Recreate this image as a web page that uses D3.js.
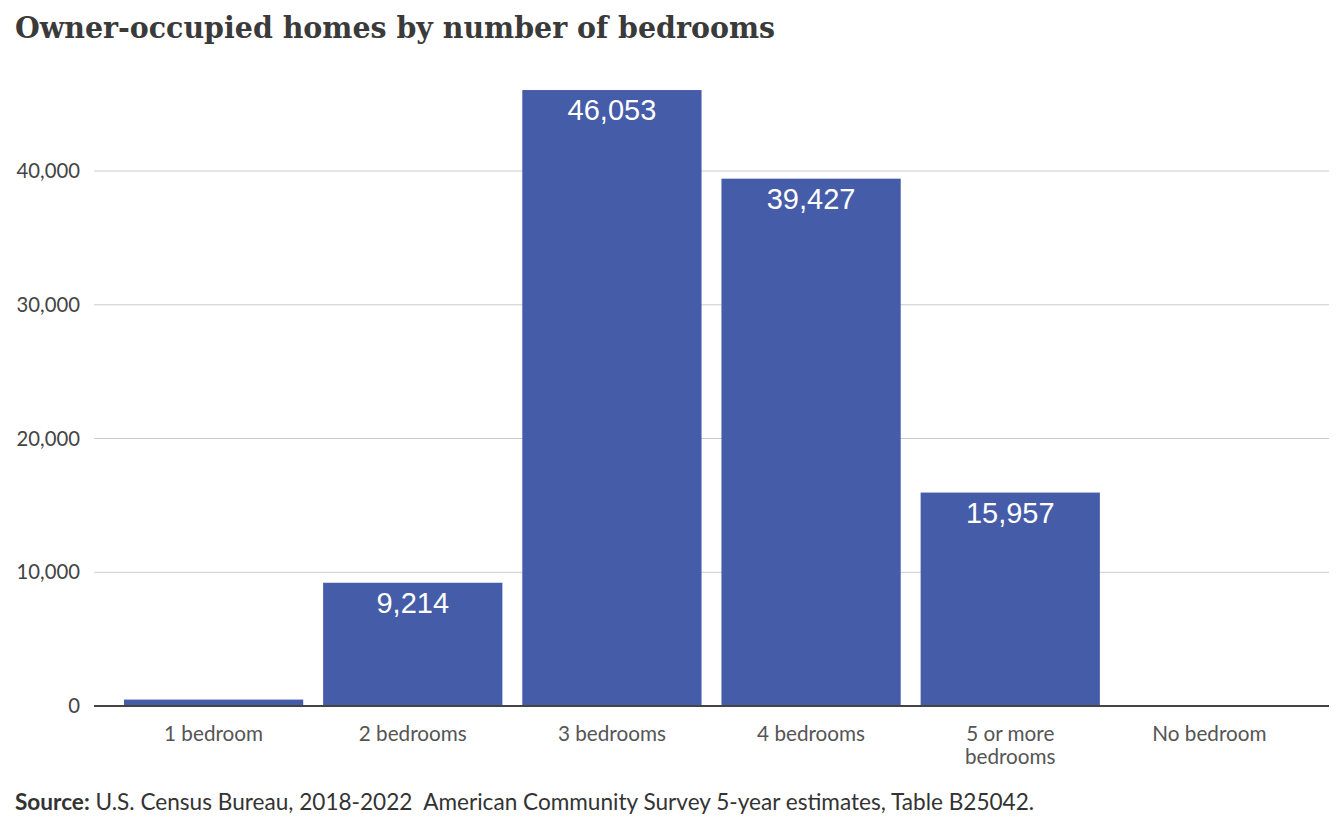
<html>
<head>
<script src="https://d3js.org/d3.v7.min.js"></script>
<style>
  body { margin: 0; background: #fff; }
</style>
</head>
<body>
<script>
var categories = ["1 bedroom", "2 bedrooms", "3 bedrooms", "4 bedrooms", "5 or more bedrooms", "No bedroom"];
var values = [480, 9214, 46053, 39427, 15957, 0];
var yTicks = [0, 10000, 20000, 30000, 40000];

var w = 1344, h = 830;
var svg = d3.select("body").append("svg").attr("width", w).attr("height", h);

// title
svg.append("text").attr("x", 15).attr("y", 38)
  .attr("font-family", "'Roboto Slab', 'DejaVu Serif Condensed', 'DejaVu Serif', serif")
  .attr("font-weight", "bold").attr("font-size", 29).attr("fill", "#3a3a3a")
  .attr("textLength", 760).attr("lengthAdjust", "spacingAndGlyphs")
  .text("Owner-occupied  homes by number of bedrooms");

var x = d3.scaleBand().domain(categories).range([114, 1309]).paddingInner(0.1).paddingOuter(0.05);
var y = d3.scaleLinear().domain([0, 40000]).range([706, 171]);

// grid
svg.append("g").selectAll("line").data(yTicks.slice(1)).join("line")
  .attr("x1", 94).attr("x2", 1329)
  .attr("y1", function(d){ return y(d); }).attr("y2", function(d){ return y(d); })
  .attr("stroke", "#cccccc").attr("stroke-width", 1);

// y tick labels
svg.append("g").selectAll("text").data(yTicks).join("text")
  .attr("x", 80).attr("y", function(d){ return y(d) + 7; })
  .attr("text-anchor", "end")
  .attr("font-family", "Lato, sans-serif").attr("font-size", 20.3).attr("fill", "#444")
  .text(function(d){ return d3.format(",")(d); });

// bars
svg.append("g").selectAll("rect").data(values).join("rect")
  .attr("x", function(d, i){ return x(categories[i]); })
  .attr("width", x.bandwidth())
  .attr("y", function(d){ return y(d); })
  .attr("height", function(d){ return y(0) - y(d); })
  .attr("fill", "#455ca8");

// value labels
svg.append("g").selectAll("text").data(values).join("text")
  .filter(function(d){ return d > 5000; })
  .attr("x", function(d){ return x(categories[values.indexOf(d)]) + x.bandwidth() / 2; })
  .attr("y", function(d){ return y(d) + 30; })
  .attr("text-anchor", "middle")
  .attr("font-family", "'Liberation Sans', Arial, sans-serif").attr("font-size", 29).attr("fill", "#fff")
  .text(function(d){ return d3.format(",")(d); });

// baseline
svg.append("line").attr("x1", 94).attr("x2", 1329).attr("y1", y(0)).attr("y2", y(0))
  .attr("stroke", "#444").attr("stroke-width", 2);

// x labels
var xl = svg.append("g").selectAll("text").data(categories).join("text")
  .attr("x", function(d){ return x(d) + x.bandwidth() / 2; })
  .attr("y", 741)
  .attr("text-anchor", "middle")
  .attr("font-family", "Lato, sans-serif").attr("font-size", 20.7).attr("fill", "#555");
xl.each(function(d){
  var t = d3.select(this);
  var lines = d === "5 or more bedrooms" ? ["5 or more", "bedrooms"] : [d];
  lines.forEach(function(l, i){
    t.append("tspan").attr("x", x(d) + x.bandwidth() / 2).attr("dy", i ? 23 : 0).text(l);
  });
});

// source
var src = svg.append("text").attr("x", 15).attr("y", 810).attr("xml:space", "preserve")
  .attr("font-family", "Lato, sans-serif").attr("font-size", 22.6).attr("fill", "#333");
src.append("tspan").attr("font-weight", "bold").text("Source:");
src.append("tspan").text(" U.S. Census Bureau, 2018-2022  American Community Survey 5-year estimates, Table B25042.");
</script>
</body>
</html>
